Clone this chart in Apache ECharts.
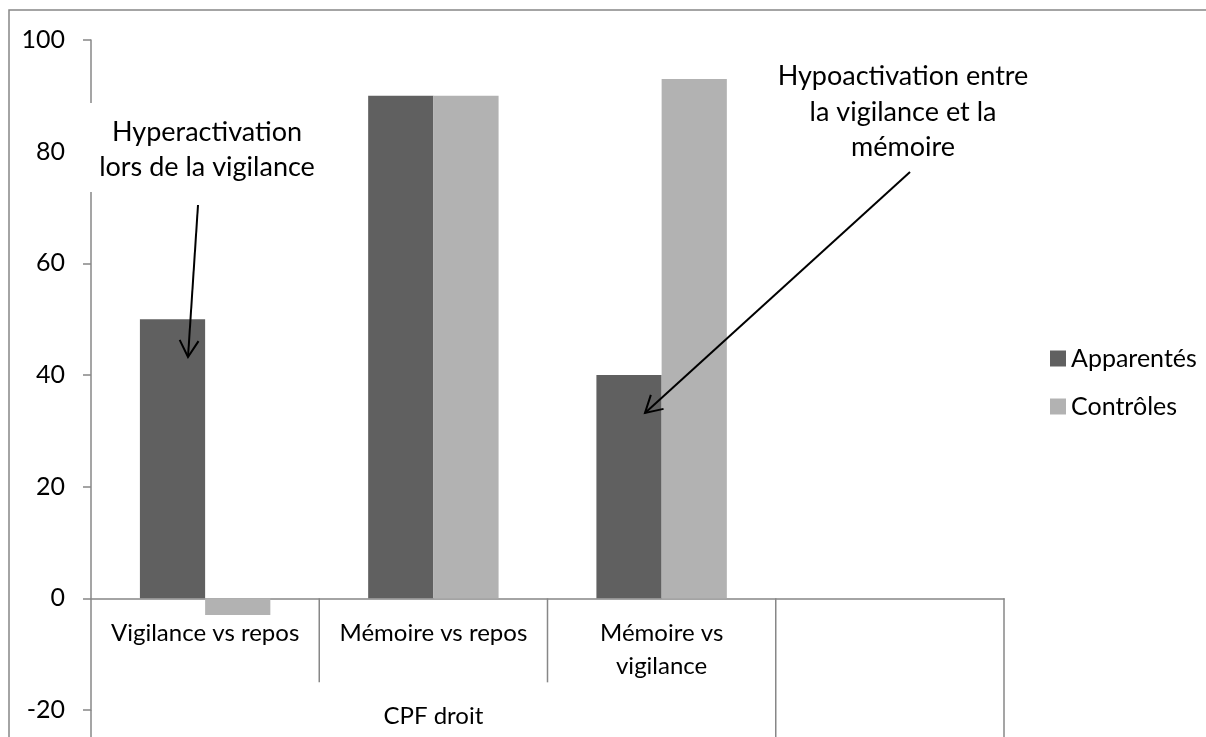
<!DOCTYPE html>
<html>
<head>
<meta charset="utf-8">
<script src="https://cdn.jsdelivr.net/npm/echarts@6/dist/echarts.min.js"></script>
<style>
html,body{margin:0;padding:0;background:#fff;}
#chart{width:1206px;height:737px;}
</style>
</head>
<body>
<div id="chart"></div>
<script>
var categories = ['Vigilance vs repos', 'Mémoire vs repos', 'Mémoire vs\nvigilance', ''];
var apparentes = [50, 90, 40, null];
var controles = [-3, 90, 93, null];
var yTicks = [-20, 0, 20, 40, 60, 80, 100];
var groupLabel = 'CPF droit';
var note1 = 'Hyperactivation\nlors de la vigilance';
var note2 = 'Hypoactivation entre\nla vigilance et la\nmémoire';

var FONT = 'Lato';
var AXIS = '#878787';
var chart = echarts.init(document.getElementById('chart'));

var option = {
  animation: false,
  backgroundColor: '#fff',
  textStyle: { fontFamily: FONT },
  grid: { left: 91, top: 40, right: 202, bottom: 27, containLabel: false, outerBoundsMode: 'none' },
  legend: {
    orient: 'vertical', left: 1045, top: 341,
    itemWidth: 16, itemHeight: 16, itemGap: 23,
    icon: 'rect',
    textStyle: { fontFamily: FONT, fontSize: 25, color: '#000' },
    data: ['Apparentés', 'Contrôles']
  },
  xAxis: {
    type: 'category', data: categories, boundaryGap: true,
    axisLine: { onZero: true, lineStyle: { color: AXIS, width: 1.5 } },
    axisTick: { show: false },
    axisLabel: { interval: 0, fontFamily: FONT, fontSize: 24, color: '#000', margin: -93, lineHeight: 33 },
    splitLine: { show: false }
  },
  yAxis: {
    type: 'value', min: yTicks[0], max: yTicks[yTicks.length - 1], interval: 20,
    axisLine: { show: true, lineStyle: { color: AXIS, width: 1.5 } },
    axisTick: { show: true, length: 8, lineStyle: { color: AXIS, width: 1.5 } },
    axisLabel: { fontFamily: FONT, fontSize: 25, color: '#000', margin: 26 },
    splitLine: { show: false }
  },
  series: [
    { name: 'Apparentés', type: 'bar', data: apparentes, barGap: '0%', barCategoryGap: '42.86%',
      itemStyle: { color: '#606060' } },
    { name: 'Contrôles', type: 'bar', data: controles, barGap: '0%', barCategoryGap: '42.86%',
      itemStyle: { color: '#b2b2b2' } }
  ]
};
chart.setOption(option);

function px(i, v) { return chart.convertToPixel({ xAxisIndex: 0, yAxisIndex: 0 }, [i, v]); }
var zero = px(0, 0)[1];
var band = px(1, 0)[0] - px(0, 0)[0];
var yMin = px(0, yTicks[0])[1];
var H = 737;
function boundary(i) { return px(i, 0)[0] - band / 2; }

function vline(x, y1, y2) {
  return { type: 'line', shape: { x1: x, y1: y1, x2: x, y2: y2 }, style: { stroke: AXIS, lineWidth: 1.5 }, z: 5, silent: true };
}
function arrow(x1, y1, x2, y2) {
  var ang = Math.atan2(y2 - y1, x2 - x1), L = 19, a = 0.52;
  return [
    { type: 'line', shape: { x1: x1, y1: y1, x2: x2, y2: y2 }, style: { stroke: '#000', lineWidth: 2 }, z: 50 },
    { type: 'polyline', shape: { points: [
        [x2 - L * Math.cos(ang - a), y2 - L * Math.sin(ang - a)], [x2, y2],
        [x2 - L * Math.cos(ang + a), y2 - L * Math.sin(ang + a)]] },
      style: { stroke: '#000', lineWidth: 2, fill: null }, z: 50 }
  ];
}

var elems = [
  { type: 'rect', shape: { x: 9, y: 10, width: 1400, height: 900 }, style: { fill: null, stroke: AXIS, lineWidth: 1.5 }, z: 1, silent: true },
  vline(boundary(0), yMin, H),
  vline(boundary(1), zero, zero + 84),
  vline(boundary(2), zero, zero + 84),
  vline(boundary(3), zero, H),
  vline(boundary(4), zero, H),
  { type: 'text', x: (px(0, 0)[0] + px(2, 0)[0]) / 2, y: 716, style: { text: groupLabel, fontFamily: FONT, fontSize: 24, fill: '#000', align: 'center', verticalAlign: 'middle' }, z: 5 },
  { type: 'rect', shape: { x: 82, y: 103, width: 250, height: 89 }, style: { fill: '#fff' }, z: 40 },
  { type: 'text', x: 207, y: 150, style: { text: note1, fontFamily: FONT, fontSize: 27, lineHeight: 35, fill: '#000', align: 'center', verticalAlign: 'middle' }, z: 45 },
  { type: 'text', x: 903, y: 112, style: { text: note2, fontFamily: FONT, fontSize: 27, lineHeight: 35.5, fill: '#000', align: 'center', verticalAlign: 'middle' }, z: 45 }
];
elems = elems.concat(arrow(198, 205, 188, 357)).concat(arrow(910, 172, 645, 413));
chart.setOption({ graphic: { elements: elems } });
</script>
</body>
</html>
